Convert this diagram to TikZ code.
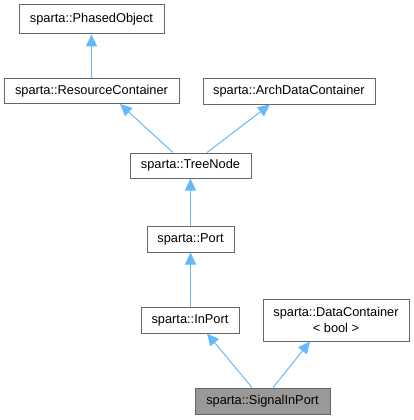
\documentclass[tikz,border=0pt]{standalone}
\usepackage{fontspec}
\setmainfont{Liberation Sans}
\usetikzlibrary{arrows.meta}
\definecolor{edgeblue}{HTML}{63B8FF}
\definecolor{boxgrey}{HTML}{666666}
\definecolor{curfill}{HTML}{999999}
\tikzset{
  cls/.style={draw=boxgrey,line width=1pt,fill=white,inner sep=0pt,align=center,
    font=\fontsize{12.8}{16}\selectfont},
  edge/.style={draw=edgeblue,line width=1pt,-{Triangle[length=12pt,width=11pt]}}
}
\begin{document}
\begin{tikzpicture}[x=1pt,y=-1pt]
                \useasboundingbox (0,0) rectangle (414,420);
                %% classes
                \node[cls,minimum width=145pt,minimum height=29pt] (phased) at (91.5,19.5) {sparta::PhasedObject};
                \node[cls,minimum width=175pt,minimum height=25pt] (rescont) at (91.5,91) {sparta::ResourceContainer};
                \node[cls,minimum width=172pt,minimum height=26pt] (archcont) at (289,91) {sparta::ArchDataContainer};
                \node[cls,minimum width=121pt,minimum height=25pt] (treenode) at (190.5,165.5) {sparta::TreeNode};
                \node[cls,minimum width=87pt,minimum height=26pt] (port) at (190.5,239) {sparta::Port};
                \node[cls,minimum width=98pt,minimum height=26pt] (inport) at (190,320) {sparta::InPort};
                \node[cls,minimum width=146pt,minimum height=42pt] (datacont) at (336,320) {sparta::DataContainer\\< bool >};
                \node[cls,fill=curfill,minimum width=135pt,minimum height=26pt] (siginport) at (262.5,401) {sparta::SignalInPort};
                %% inheritance
                \draw[edge] (rescont.north) -- (phased.south);
                \draw[edge] ([xshift=-17.5pt]treenode.north) -- ([xshift=28.5pt]rescont.south);
                \draw[edge] ([xshift=16.5pt]treenode.north) -- ([xshift=-19pt]archcont.south);
                \draw[edge] (port.north) -- (treenode.south);
                \draw[edge] ([xshift=0.5pt]inport.north) -- (port.south);
                \draw[edge] ([xshift=-10.5pt]siginport.north) -- ([xshift=17pt]inport.south);
                \draw[edge] ([xshift=10.5pt]siginport.north) -- ([xshift=-26pt]datacont.south);
            \end{tikzpicture}
\end{document}
